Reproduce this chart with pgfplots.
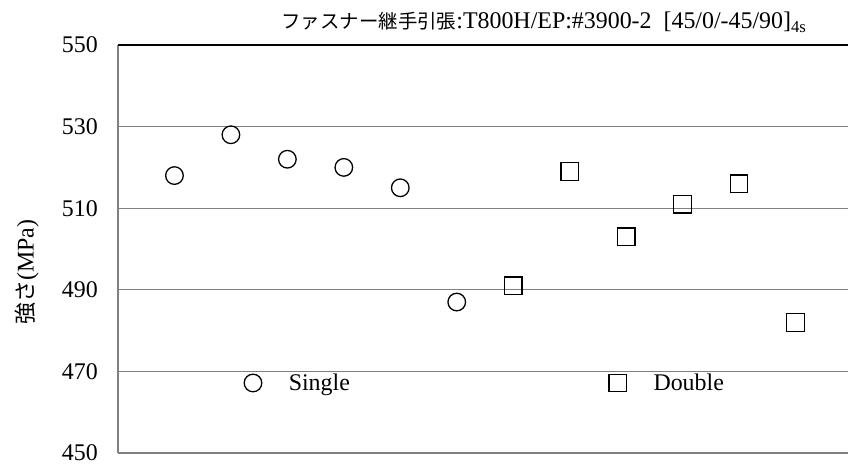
\documentclass[border=0pt]{standalone}
\usepackage{fontspec}
\setmainfont{Liberation Serif}
\newfontfamily\jp{Noto Sans CJK JP}
\usepackage{pgfplots}
\pgfplotsset{compat=1.18}
\definecolor{gridgray}{RGB}{128,128,128}
\begin{document}
\begin{tikzpicture}
\path[use as bounding box] (-118bp,-16bp) rectangle (730bp,453bp);
\begin{axis}[
  at={(0,0)}, anchor=south west, scale only axis,
  width=730bp, height=408bp,
  xmin=0, xmax=12.93, ymin=450, ymax=550,
  xtick=\empty,
  ytick={450,470,490,510,530},
  extra y ticks={550},
  extra y tick style={grid style={black, line width=2bp}},
  ymajorgrids,
  grid style={gridgray, line width=1.3bp},
  major tick length=0pt,
  axis lines=left,
  axis line style={-, gridgray, line width=2bp},
  /pgf/number format/assume math mode=true,
  yticklabel style={font=\fontsize{24}{28}\selectfont, inner sep=0pt, xshift=-20bp},
  clip=false,
  legend columns=2,
  legend style={draw=none, fill=none, inner sep=0pt, anchor=west,
    at={(rel axis cs:0.1726,0.1716)},
    font=\fontsize{24}{28}\selectfont,
    nodes={inner sep=0pt},
    /tikz/every odd column/.append style={column sep=27bp},
    /tikz/every even column/.append style={column sep=259bp}},
  legend image code/.code={\draw[#1] plot coordinates {(9.5bp,0bp)};},
]
\addplot[only marks, mark=o, mark size=8.8bp, mark options={line width=1.3bp, draw=black, fill=none}]
  coordinates {(1,518)(2,528)(3,522)(4,520)(5,515)(6,487)};
\addlegendentry{Single}
\addplot[only marks, mark=square, mark size=8.8bp, mark options={line width=1.3bp, draw=black, fill=none}]
  coordinates {(7,491)(8,519)(9,503)(10,511)(11,516)(12,482)};
\addlegendentry{Double}
\end{axis}
\node[font=\fontsize{24}{28}\selectfont] at (426bp,431bp) {{\jp\fontsize{19.5}{24}\selectfont ファスナー継手引張}:T800H/EP:\#3900-2\ \ [45/0/-45/90]\textsubscript{4s}};
\node[rotate=90, font=\fontsize{24}{28}\selectfont] at (-91bp,181bp) {{\jp\fontsize{22}{26}\selectfont 強さ}(MPa)};
\end{tikzpicture}
\end{document}
